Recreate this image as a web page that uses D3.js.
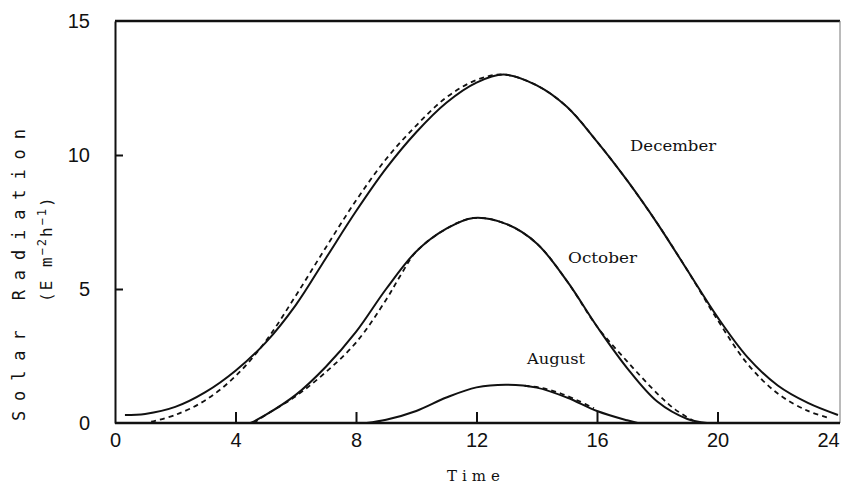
<!DOCTYPE html>
<html>
<head>
<meta charset="utf-8">
<script src="https://cdn.jsdelivr.net/npm/d3@7"></script>
<style>
  html, body { margin: 0; padding: 0; background: #fff; }
  svg { display: block; }
</style>
</head>
<body>
<svg id="chart" width="843" height="487"></svg>
<script>
// ---- data ----
const xTicks = [0, 4, 8, 12, 16, 20, 24];
const yTicks = [0, 5, 10, 15];

const decSolidT = [0.33, 1, 2, 3, 4, 5, 6, 7, 8, 9, 10, 11, 12, 12.9, 14, 15, 16, 17, 18, 19, 20, 21, 22, 23, 24];
const decSolidV = [0.3, 0.34, 0.6, 1.15, 1.95, 3.0, 4.4, 6.15, 7.9, 9.5, 10.85, 11.95, 12.7, 13.0, 12.6, 11.8, 10.5, 9.05, 7.45, 5.7, 3.95, 2.45, 1.4, 0.75, 0.3];

const decDashT = [1.2, 2, 3, 4, 5, 6, 7, 8, 9, 10, 11, 12, 12.9, 14, 15, 16, 17, 18, 19, 20, 21, 22, 23, 23.67];
const decDashV = [0.05, 0.3, 0.85, 1.75, 3.05, 4.75, 6.55, 8.3, 9.85, 11.1, 12.15, 12.8, 13.0, 12.6, 11.8, 10.5, 9.05, 7.45, 5.7, 3.85, 2.2, 1.1, 0.45, 0.2];

const octSolidT = [4.5, 5, 6, 7, 8, 9, 10, 11, 11.9, 13, 14, 15, 16, 17, 18, 19, 19.65];
const octSolidV = [0.0, 0.3, 1.05, 2.1, 3.4, 5.0, 6.4, 7.25, 7.65, 7.42, 6.7, 5.3, 3.6, 2.05, 0.8, 0.15, 0.0];

const octDashT = [4.6, 5, 6, 7, 8, 9, 9.5, 10, 11, 11.9, 13, 14, 15, 16, 17, 18, 18.6, 19.2];
const octDashV = [0.0, 0.3, 1.0, 1.9, 3.0, 4.6, 5.55, 6.4, 7.25, 7.65, 7.42, 6.7, 5.3, 3.6, 2.3, 1.1, 0.5, 0.08];

const augSolidT = [8.35, 9, 10, 11, 12, 13, 14, 15, 16, 17, 17.35];
const augSolidV = [0.0, 0.12, 0.45, 0.95, 1.33, 1.43, 1.32, 0.95, 0.45, 0.1, 0.0];

const augDashT = [13.6, 14.2, 14.8, 15.4, 15.9];
const augDashV = [1.39, 1.3, 1.1, 0.82, 0.55];

const monthLabels = ["December", "October", "August"];
const monthLabelT = [17.1, 15.04, 13.68];
const monthLabelV = [10.15, 5.97, 2.2];

const xTitle = "Time";
const yTitle = "Solar Radiation";

// ---- layout ----
const svg = d3.select("#chart");
const x = d3.scaleLinear().domain([0, 24]).range([115, 838]);
const y = d3.scaleLinear().domain([0, 15]).range([423, 21]);

const zip = (ts, vs) => ts.map((t, i) => [t, vs[i]]);
const line = d3.line().x(d => x(d[0])).y(d => y(d[1])).curve(d3.curveCatmullRom.alpha(0.5));

// frame
svg.append("line").attr("x1", x(0)).attr("x2", x(24) + 2).attr("y1", y(15)).attr("y2", y(15))
  .attr("stroke", "#111").attr("stroke-width", 2.5);
svg.append("line").attr("x1", x(24) + 2).attr("x2", x(24) + 2).attr("y1", y(15)).attr("y2", y(0))
  .attr("stroke", "#777").attr("stroke-width", 1);

// axes
const xAxis = d3.axisBottom(x).tickValues(xTicks).tickSizeInner(0).tickSizeOuter(0).tickPadding(10);
const gx = svg.append("g").attr("transform", `translate(0,${y(0)})`).call(xAxis);
gx.select(".domain").attr("stroke", "#111").attr("stroke-width", 2.5).attr("d", `M${x(0)},0H${x(24) + 2}`);
gx.selectAll("text").attr("font-family", "Liberation Sans, Arial, sans-serif").attr("font-size", 20)
  .attr("fill", "#111")
  .attr("x", d => (d === 24 ? -10 : 0));
gx.selectAll(".tick").filter(d => d > 0 && d < 24).append("line")
  .attr("y1", 0).attr("y2", -11).attr("stroke", "#111").attr("stroke-width", 2);

const yAxis = d3.axisLeft(y).tickValues(yTicks).tickSizeInner(0).tickSizeOuter(0).tickPadding(25);
const gy = svg.append("g").attr("transform", `translate(${x(0)},0)`).call(yAxis);
gy.select(".domain").attr("stroke", "#111").attr("stroke-width", 2);
gy.selectAll("text").attr("font-family", "Liberation Sans, Arial, sans-serif").attr("font-size", 20)
  .attr("fill", "#111");
gy.selectAll(".tick").filter(d => d > 0 && d < 15).append("line")
  .attr("x1", 0).attr("x2", 8).attr("stroke", "#111").attr("stroke-width", 2);

// curves
const series = [
  [decSolidT, decSolidV, false],
  [decDashT, decDashV, true],
  [octSolidT, octSolidV, false],
  [octDashT, octDashV, true],
  [augSolidT, augSolidV, false],
  [augDashT, augDashV, true]
];
series.forEach(([ts, vs, dashed]) => {
  svg.append("path").datum(zip(ts, vs)).attr("d", line)
    .attr("fill", "none").attr("stroke", "#111")
    .attr("stroke-width", dashed ? 1.8 : 2)
    .attr("stroke-dasharray", dashed ? "5,4" : null);
});

// month labels
const labelWidths = [86, 69, 58];
monthLabels.forEach((m, i) => {
  svg.append("text").attr("x", x(monthLabelT[i])).attr("y", y(monthLabelV[i]))
    .attr("font-family", "DejaVu Serif, Liberation Serif, serif").attr("font-size", 14)
    .attr("fill", "#111")
    .attr("textLength", labelWidths[i]).attr("lengthAdjust", "spacingAndGlyphs")
    .text(m);
});

// x title
svg.append("text").attr("x", 447).attr("y", 481)
  .attr("font-family", "DejaVu Serif, Liberation Serif, serif").attr("font-size", 15)
  .attr("fill", "#111").attr("textLength", 53).attr("lengthAdjust", "spacing")
  .text(xTitle);

// y title
svg.append("text").attr("transform", "translate(25,421) rotate(-90)")
  .attr("font-family", "DejaVu Sans Mono, Liberation Mono, monospace").attr("font-size", 17)
  .attr("fill", "#111").attr("textLength", 292).attr("lengthAdjust", "spacing")
  .text(yTitle);

const yu = svg.append("text").attr("transform", "translate(52,302) rotate(-90)")
  .attr("font-family", "DejaVu Sans Mono, Liberation Mono, monospace").attr("font-size", 16)
  .attr("fill", "#111").attr("letter-spacing", 2);
yu.append("tspan").text("(E  m");
yu.append("tspan").attr("font-size", 12).attr("dy", -6).text("\u22122");
yu.append("tspan").attr("dy", 6).text("h");
yu.append("tspan").attr("font-size", 12).attr("dy", -6).text("\u22121");
yu.append("tspan").attr("dy", 6).text(")");
</script>
</body>
</html>
